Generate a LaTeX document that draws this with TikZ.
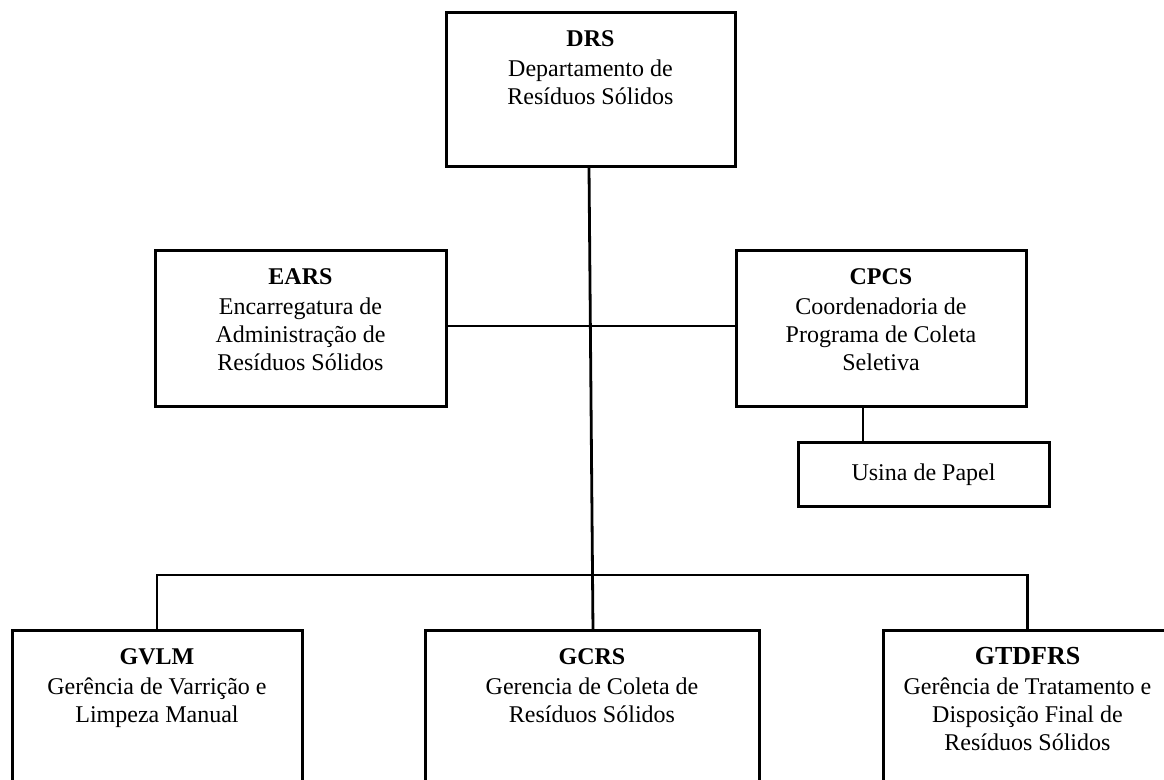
\documentclass[tikz,border=0pt]{standalone}
\usepackage{fontspec}
\setmainfont{Liberation Serif}
\tikzset{
  box/.style={draw, line width=1.5pt, inner sep=0pt, outer sep=0pt},
  lbl/.style={anchor=north, inner sep=0pt, align=center, yshift=-6.6pt, font=\fontsize{12}{14}\selectfont},
  conn/.style={line width=1.4pt}
}
\begin{document}
\begin{tikzpicture}[x=0.5pt,y=-0.5pt]
\useasboundingbox (0,0) rectangle (1164,780);
\fill[white] (0,0) rectangle (1164,780);
\clip (0,0) rectangle (1164,780);

% boxes
\node[box, minimum width=144.5pt, minimum height=77pt] (drs) at (590.5,90) {};
\node[box, minimum width=145.5pt, minimum height=78pt] (ears) at (300.5,329) {};
\node[box, minimum width=145pt, minimum height=78pt] (cpcs) at (881,329) {};
\node[box, minimum width=125.5pt, minimum height=32pt, font=\fontsize{12}{14}\selectfont] (usina) at (923.5,475) {Usina de Papel};
\node[box, minimum width=145pt, minimum height=150pt] (gvlm) at (157,781) {};
\node[box, minimum width=167pt, minimum height=150pt] (gcrs) at (592,781) {};
\node[box, minimum width=144.5pt, minimum height=150pt] (gtdfrs) at (1027.5,781) {};

% texts
\node[lbl] (tdrs) at (drs.north) {\strut\textbf{DRS}\\[1pt] Departamento de\\ Resíduos Sólidos};
\node[lbl] (tears) at (ears.north) {\strut\textbf{EARS}\\[1pt] Encarregatura de\\ Administração de\\ Resíduos Sólidos};
\node[lbl] (tcpcs) at (cpcs.north) {\strut\textbf{CPCS}\\[1pt] Coordenadoria de\\ Programa de Coleta\\ Seletiva};
\node[lbl] (tgvlm) at (gvlm.north) {\strut\textbf{GVLM}\\[1pt] Gerência de Varrição e\\ Limpeza Manual};
\node[lbl] (tgcrs) at (gcrs.north) {\strut\textbf{GCRS}\\[1pt] Gerencia de Coleta de\\ Resíduos Sólidos};
\node[lbl] (tgtdfrs) at (gtdfrs.north) {\strut{\fontsize{13}{14}\selectfont\textbf{GTDFRS}}\\[1pt] Gerência de Tratamento e\\ Disposição Final de\\ Resíduos Sólidos};

% connectors
\draw[conn] ([xshift=-0.75pt]drs.south) -- ([xshift=0.5pt]gcrs.north);
\draw[conn] (ears.east |- 0,326) -- (cpcs.west |- 0,326);
\draw[conn] (cpcs.south -| 863,0) -- (usina.north -| 863,0);
\coordinate (busL) at (gvlm.north |- 0,575);
\coordinate (busR) at (gtdfrs.north |- 0,575);
\draw[conn] (gvlm.north) -- (busL) -- (busR) -- (gtdfrs.north);
\end{tikzpicture}
\end{document}
